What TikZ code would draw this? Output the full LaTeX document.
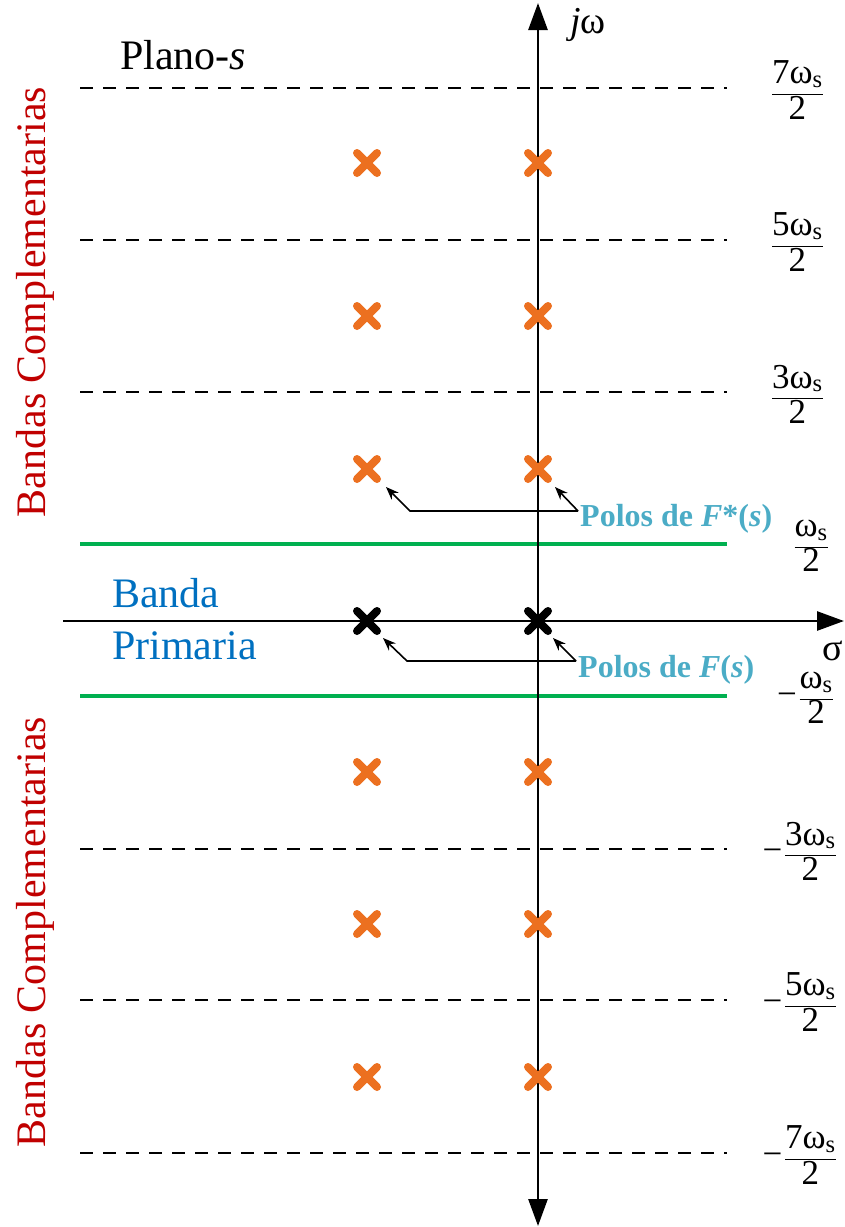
\documentclass[tikz,border=0pt]{standalone}
\usepackage{fontspec}
\setmainfont{Liberation Serif}
\usetikzlibrary{arrows.meta}
\definecolor{cred}{HTML}{C00000}
\definecolor{cblue}{HTML}{0070C0}
\definecolor{cpolo}{HTML}{4BACC6}
\definecolor{corange}{HTML}{EC7020}
\definecolor{cgreen}{HTML}{00B050}
\newcommand{\mymin}{\mbox{−}\mkern1mu}
\begin{document}
\begin{tikzpicture}[x=1pt,y=-1pt,
  axis/.style={line width=2.7pt,-{Triangle[length=27pt,width=19pt]}},
  dashline/.style={line width=1.5pt,dash pattern=on 13pt off 10pt},
  greenline/.style={line width=3.5pt,cgreen},
  crossmark/.style={line width=8pt,line cap=round},
  ptr/.style={line width=1.6pt,-{Stealth[length=13pt,width=10pt]}},
  big/.style={font=\fontsize{42}{50}\selectfont,inner sep=0pt},
  fr/.style={font=\fontsize{35}{42}\selectfont,inner sep=0pt,anchor=east},
  polo/.style={font=\fontsize{32}{38}\selectfont\bfseries,text=cpolo,inner sep=0pt,anchor=base west}
]
\useasboundingbox (0,0) rectangle (845,1227);
% dashed band limits
\foreach \yy in {88,240,392,849,1000,1153}
  \draw[dashline] (80,\yy) -- (727,\yy);
% green lines
\draw[greenline] (80,544) -- (727,544);
\draw[greenline] (80,696) -- (727,696);
% axes
\coordinate (orig) at (538,621);
\coordinate (ytop) at (538,3);
\coordinate (ybot) at (538,1226);
\coordinate (xl) at (63,621);
\coordinate (xr) at (844,621);
\draw[axis] (orig) -- (ytop);
\draw[axis] (orig) -- (ybot);
\draw[axis] (xl) -- (xr);
% crosses
\foreach \yy in {163,316,469,772,924,1077}{
  \foreach \xx in {367,538}{
    \draw[crossmark,corange] (\xx-10,\yy-10) -- (\xx+10,\yy+10) (\xx-10,\yy+10) -- (\xx+10,\yy-10);
  }
}
\foreach \xx in {367,538}
  \draw[crossmark,black] (\xx-10,621-10) -- (\xx+10,621+10) (\xx-10,621+10) -- (\xx+10,621-10);
% labels
\node[big,anchor=base west] (plano) at (120,69) {Plano-\textit{s}};
\node[font=\fontsize{38}{44}\selectfont,inner sep=0pt,anchor=base west] (jw) at (570,33) {\textit{j}ω};
\node[font=\fontsize{38}{44}\selectfont,inner sep=0pt,anchor=base west] (sig) at (822,660) {σ};
\node[big,text=cblue,anchor=base west] (banda) at (112,607) {Banda};
\node[big,text=cblue,anchor=base west] (prim) at (112,659) {Primaria};
\node[big,text=cred,rotate=90] (bcu) at (35,302) {Bandas Complementarias};
\node[big,text=cred,rotate=90] (bcl) at (35,932) {Bandas Complementarias};
% fractions
\node[fr] (f7) at (824,90) {$\displaystyle\frac{\mbox{7ω\textsubscript{s}}}{\mbox{2}}$};
\node[fr] (f5) at (824,242) {$\displaystyle\frac{\mbox{5ω\textsubscript{s}}}{\mbox{2}}$};
\node[fr] (f3) at (824,394) {$\displaystyle\frac{\mbox{3ω\textsubscript{s}}}{\mbox{2}}$};
\node[fr] (f1) at (829,546) {$\displaystyle\frac{\mbox{ω\textsubscript{s}}}{\mbox{2}}$};
\node[fr] (m1) at (834,698) {$\displaystyle\mymin\frac{\mbox{ω\textsubscript{s}}}{\mbox{2}}$};
\node[fr] (m3) at (837,851) {$\displaystyle\mymin\frac{\mbox{3ω\textsubscript{s}}}{\mbox{2}}$};
\node[fr] (m5) at (837,1002) {$\displaystyle\mymin\frac{\mbox{5ω\textsubscript{s}}}{\mbox{2}}$};
\node[fr] (m7) at (837,1155) {$\displaystyle\mymin\frac{\mbox{7ω\textsubscript{s}}}{\mbox{2}}$};
% pole labels
\node[polo] (pfs) at (580,526) {Polos de \textit{F}*(\textit{s})};
\node[polo] (pf) at (578,677) {Polos de \textit{F}(\textit{s})};
% pointers
\coordinate (jU) at (578,511);
\coordinate (kU) at (410,511);
\coordinate (tU1) at (386,487);
\coordinate (tU2) at (555,487);
\coordinate (jL) at (576,661);
\coordinate (kL) at (407,661);
\coordinate (tL1) at (383,638);
\coordinate (tL2) at (553,638);
\draw[ptr] (jU) -- (kU) -- (tU1);
\draw[ptr] (jU) -- (tU2);
\draw[ptr] (jL) -- (kL) -- (tL1);
\draw[ptr] (jL) -- (tL2);
\end{tikzpicture}
\end{document}
